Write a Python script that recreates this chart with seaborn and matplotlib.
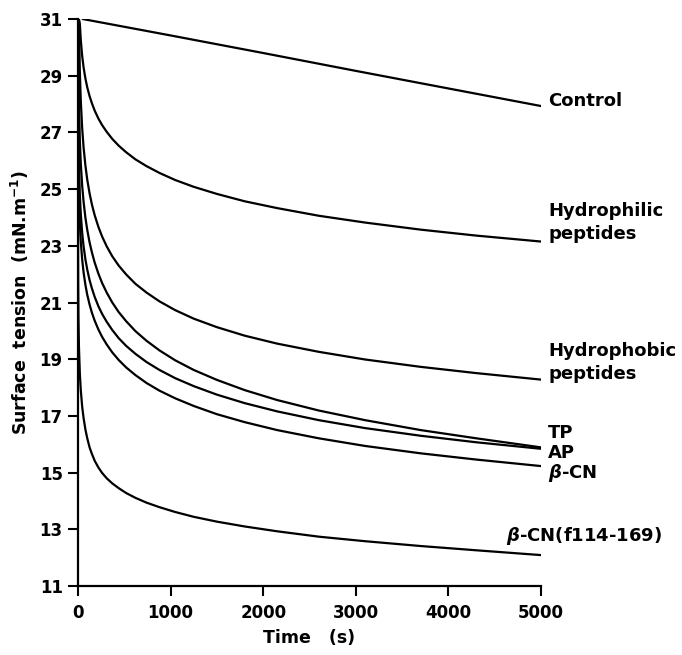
import numpy as np
import pandas as pd
import matplotlib
matplotlib.use("Agg")
import matplotlib.pyplot as plt
import seaborn as sns

# ---- data ----
time_s = [0, 1, 2, 5, 10, 20, 30, 45, 60, 80, 100, 125, 150, 180, 220, 260, 310, 370, 440,
          520, 620, 740, 880, 1050, 1250, 1500, 1800, 2150, 2600, 3100, 3700, 4300, 5000]

control_t = [50, 1000, 2000, 3000, 4000, 5000]
control_v = [31.0, 30.42, 29.8, 29.17, 28.55, 27.93]

hydrophilic = [31.0, 31.0, 31.0, 31.0, 31.0, 30.83, 30.26, 29.70, 29.30, 28.90, 28.59, 28.28,
               28.03, 27.77, 27.49, 27.26, 27.02, 26.77, 26.53, 26.30, 26.05, 25.81, 25.57,
               25.32, 25.08, 24.83, 24.57, 24.33, 24.06, 23.82, 23.57, 23.36, 23.15]
hydrophobic = [31.0, 31.0, 31.0, 31.0, 30.93, 29.13, 28.12, 27.15, 26.48, 25.83, 25.33, 24.85,
               24.46, 24.08, 23.67, 23.33, 22.98, 22.63, 22.30, 21.99, 21.66, 21.35, 21.04,
               20.73, 20.43, 20.13, 19.83, 19.55, 19.26, 18.99, 18.73, 18.51, 18.28]
tp = [31.0, 31.0, 31.0, 29.41, 28.06, 26.70, 25.91, 25.12, 24.56, 23.99, 23.56, 23.12, 22.77,
      22.41, 22.02, 21.69, 21.35, 21.00, 20.66, 20.34, 19.99, 19.65, 19.31, 18.96, 18.62,
      18.27, 17.91, 17.56, 17.19, 16.85, 16.50, 16.21, 15.89]
ap = [31.0, 29.66, 28.53, 27.04, 25.91, 24.78, 24.12, 23.46, 22.99, 22.52, 22.16, 21.79, 21.50,
      21.20, 20.87, 20.60, 20.32, 20.03, 19.74, 19.47, 19.19, 18.90, 18.62, 18.33, 18.05,
      17.75, 17.45, 17.16, 16.85, 16.57, 16.30, 16.07, 15.84]
beta_cn = [31.0, 28.43, 27.36, 25.93, 24.85, 23.78, 23.15, 22.52, 22.07, 21.62, 21.27, 20.93,
           20.64, 20.36, 20.05, 19.79, 19.52, 19.24, 18.97, 18.71, 18.44, 18.16, 17.89, 17.62,
           17.35, 17.06, 16.78, 16.50, 16.21, 15.94, 15.68, 15.46, 15.23]
beta_cn_f = [31.0, 22.71, 21.73, 20.44, 19.46, 18.48, 17.91, 17.33, 16.93, 16.52, 16.21, 15.89,
             15.66, 15.42, 15.18, 14.99, 14.80, 14.62, 14.45, 14.28, 14.11, 13.94, 13.78, 13.61,
             13.44, 13.27, 13.10, 12.93, 12.74, 12.58, 12.41, 12.26, 12.09]

series_names = ["Control", "Hydrophilic\npeptides", "Hydrophobic\npeptides", "TP", "AP",
                r"$\beta$-CN", r"$\beta$-CN(f114-169)"]
label_x = [5076, 5076, 5076, 5076, 5076, 5076, 4620]
label_y = [28.12, 23.82, 18.88, 16.4, 15.69, 14.99, 12.75]

x_ticks = [0, 1000, 2000, 3000, 4000, 5000]
y_ticks = [11, 13, 15, 17, 19, 21, 23, 25, 27, 29, 31]

# ---- long table ----
rows = []
for t, v in zip(control_t, control_v):
    rows.append(("Control", t, v))
for name, vals in [("Hydrophilic", hydrophilic), ("Hydrophobic", hydrophobic), ("TP", tp),
                   ("AP", ap), ("beta-CN", beta_cn), ("beta-CN(f114-169)", beta_cn_f)]:
    for t, v in zip(time_s, vals):
        rows.append((name, t, v))
df = pd.DataFrame(rows, columns=["series", "time", "tension"])

sns.set_style("ticks")
plt.rcParams["font.family"] = ["DejaVu Sans"]
plt.rcParams["font.weight"] = "bold"
plt.rcParams["text.color"] = "black"
plt.rcParams["axes.labelcolor"] = "black"
plt.rcParams["xtick.color"] = "black"
plt.rcParams["ytick.color"] = "black"
plt.rcParams["mathtext.default"] = "it"

fig = plt.figure(figsize=(6.82, 6.55), dpi=100)
ax = fig.add_axes([78 / 682, 1 - 586 / 655, (541 - 78) / 682, (586 - 19) / 655])

for name, g in df.groupby("series", sort=False):
    sns.lineplot(data=g, x="time", y="tension", ax=ax, color="black", linewidth=1.6,
                 estimator=None, sort=False, legend=False)

ax.set_xlim(0, 5000)
ax.set_ylim(11, 31)
ax.set_xticks(x_ticks)
ax.set_yticks(y_ticks)
ax.set_xticklabels([str(v) for v in x_ticks], fontsize=12, fontweight="bold")
ax.set_yticklabels([str(v) for v in y_ticks], fontsize=12, fontweight="bold")
ax.tick_params(axis="both", direction="out", length=7, width=1.5, color="black")
ax.tick_params(axis="x", pad=6)
ax.tick_params(axis="y", pad=4)
for s in ["top", "right"]:
    ax.spines[s].set_visible(False)
for s in ["left", "bottom"]:
    ax.spines[s].set_linewidth(1.6)
    ax.spines[s].set_color("black")

ax.set_xlabel("Time   (s)", fontsize=12.5, fontweight="bold", labelpad=5)
ax.set_ylabel("Surface  tension  (mN.m$^{\\mathbf{-1}}$)", fontsize=12.5, fontweight="bold", labelpad=6)

for txt, lx, ly in zip(series_names, label_x, label_y):
    ax.text(lx, ly, txt, fontsize=13, fontweight="bold", ha="left", va="center",
            clip_on=False, linespacing=1.35, color="black")

fig.savefig("out.png", dpi=100)
